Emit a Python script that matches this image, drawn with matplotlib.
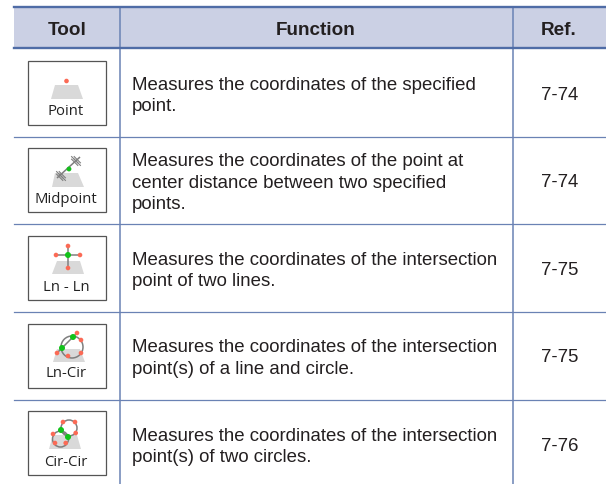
import matplotlib
matplotlib.use('Agg')
import matplotlib.pyplot as plt
from matplotlib.patches import Circle, Polygon, Rectangle

W, H = 606, 484

headers = ['Tool', 'Function', 'Ref.']
tool_names = ['Point', 'Midpoint', 'Ln - Ln', 'Ln-Cir', 'Cir-Cir']
functions = [
    'Measures the coordinates of the specified\npoint.',
    'Measures the coordinates of the point at\ncenter distance between two specified\npoints.',
    'Measures the coordinates of the intersection\npoint of two lines.',
    'Measures the coordinates of the intersection\npoint(s) of a line and circle.',
    'Measures the coordinates of the intersection\npoint(s) of two circles.',
]
refs = ['7-74', '7-74', '7-75', '7-75', '7-76']

LINE = '#6a82b4'
HEAD_LINE = '#4f6ca6'
HEAD_FILL = '#cbd0e4'
RED = '#fb6a55'
GREEN = '#12c21a'
GRAY = '#d9d9d9'
WIRE = '#7f7f7f'
TEXT = '#231f20'

LEFT, COL1, COL2 = 14, 120, 513
HEAD_TOP, HEAD_BOT = 7, 48
row_lines = [136.5, 224, 312, 400]
box_tops = [61, 148, 236, 324, 411]
BOX_L, BOX_R = 28, 106

fig = plt.figure(figsize=(W / 100, H / 100), dpi=100)
ax = fig.add_axes([0, 0, 1, 1])
ax.set_xlim(0, W)
ax.set_ylim(H, 0)
ax.axis('off')


def dots(points, color, r=2.3):
    for x, y in points:
        ax.add_patch(Circle((x, y), r, fc=color, ec='none', zorder=5))


def trapezoid(y0, y1, x0, x1, b0, b1):
    ax.add_patch(Polygon([(x0, y0), (x1, y0), (b1, y1), (b0, y1)],
                         fc=GRAY, ec='none', zorder=2))


def wire(xs, ys, lw=1.1):
    ax.plot(xs, ys, color=WIRE, lw=lw, zorder=4, solid_capstyle='butt')


def cross(x, y):
    # little double hatch mark of the midpoint icon
    for d in (-1.3, 1.3):
        wire([x - 3.5 + d, x + 3.5 + d], [y - 3.5 - d, y + 3.5 - d], lw=0.8)
        wire([x - 3.5 + d, x + 3.5 + d], [y - 3.5 + d, y + 3.5 + d], lw=0.8)


def icon_point(t):
    trapezoid(t + 24, t + 38, 55, 78, 51, 83)
    dots([(66.5, t + 20)], RED)


def icon_midpoint(t):
    trapezoid(t + 25, t + 39, 55, 78, 52, 84)
    wire([57, 80], [t + 30, t + 9])
    cross(61, t + 28)
    cross(76, t + 13)
    dots([(69, t + 21)], GREEN, 2.4)


def icon_ln_ln(t):
    trapezoid(t + 25, t + 38, 57, 80, 52, 84)
    wire([56, 80], [t + 19, t + 19])
    wire([68, 68], [t + 10, t + 32])
    dots([(56, t + 19), (80, t + 19), (68, t + 10), (68, t + 32)], RED)
    dots([(68, t + 19)], GREEN, 3.0)


def icon_ln_cir(t):
    trapezoid(t + 25, t + 38, 57, 80, 53, 85)
    ax.add_patch(Circle((72, t + 23), 11, fc='none', ec=WIRE, lw=1.1, zorder=4))
    wire([57, 77], [t + 29, t + 9])
    dots([(57, t + 29), (77, t + 9), (81, t + 16), (81, t + 29), (68, t + 32)], RED)
    dots([(62, t + 24), (73, t + 13)], GREEN, 3.0)


def icon_cir_cir(t):
    trapezoid(t + 24, t + 38, 53, 77, 49, 81)
    ax.add_patch(Circle((69, t + 17), 8, fc='none', ec=WIRE, lw=1.1, zorder=4))
    ax.add_patch(Circle((60.5, t + 28), 8, fc='none', ec=WIRE, lw=1.1, zorder=4))
    wire([61, 68], [t + 19, t + 26])
    dots([(63, t + 11), (75, t + 11), (75.7, t + 22), (53, t + 23),
          (55, t + 32), (65.7, t + 32)], RED)
    dots([(61, t + 19), (68, t + 26)], GREEN, 3.0)


icons = [icon_point, icon_midpoint, icon_ln_ln, icon_ln_cir, icon_cir_cir]
# text baselines
label_base = [115, 202.7, 290.7, 377, 465.7]
func_base = [111, 209, 286, 373.5, 462]
ref_base = [100, 187, 275, 362.5, 451]

# header band
ax.add_patch(Rectangle((LEFT, HEAD_TOP), W - LEFT, HEAD_BOT - HEAD_TOP,
                       fc=HEAD_FILL, ec='none', zorder=1))
ax.plot([LEFT, W], [HEAD_TOP, HEAD_TOP], color=HEAD_LINE, lw=1.7, zorder=3)
ax.plot([LEFT, W], [HEAD_BOT, HEAD_BOT], color=HEAD_LINE, lw=1.7, zorder=3)
for x in (COL1, COL2):
    ax.plot([x, x], [HEAD_TOP, H], color=LINE, lw=1.1, zorder=2)
for y in row_lines:
    ax.plot([LEFT, W], [y, y], color=LINE, lw=0.9, zorder=2)

fs = {'family': 'Liberation Sans', 'color': TEXT}
for x, s in zip([67, 316, 559], headers):
    ax.text(x, 34.8, s, ha='center', va='baseline', fontsize=13.6, fontweight='bold', **fs)

for i, t in enumerate(box_tops):
    ax.add_patch(Rectangle((BOX_L, t), BOX_R - BOX_L, 64, fc='white', ec='#555555',
                           lw=0.9, zorder=1.5))
    icons[i](t)
    ax.text(66, label_base[i], tool_names[i], ha='center', va='baseline', fontsize=10.7,
            family='Open Sans', color='#222222', zorder=6)
    ax.text(132, func_base[i], functions[i], ha='left', va='baseline', fontsize=13.45,
            linespacing=1.34, **fs)
    ax.text(559.5, ref_base[i], refs[i], ha='center', va='baseline', fontsize=13.4, **fs)

fig.savefig('out.png', dpi=100)
